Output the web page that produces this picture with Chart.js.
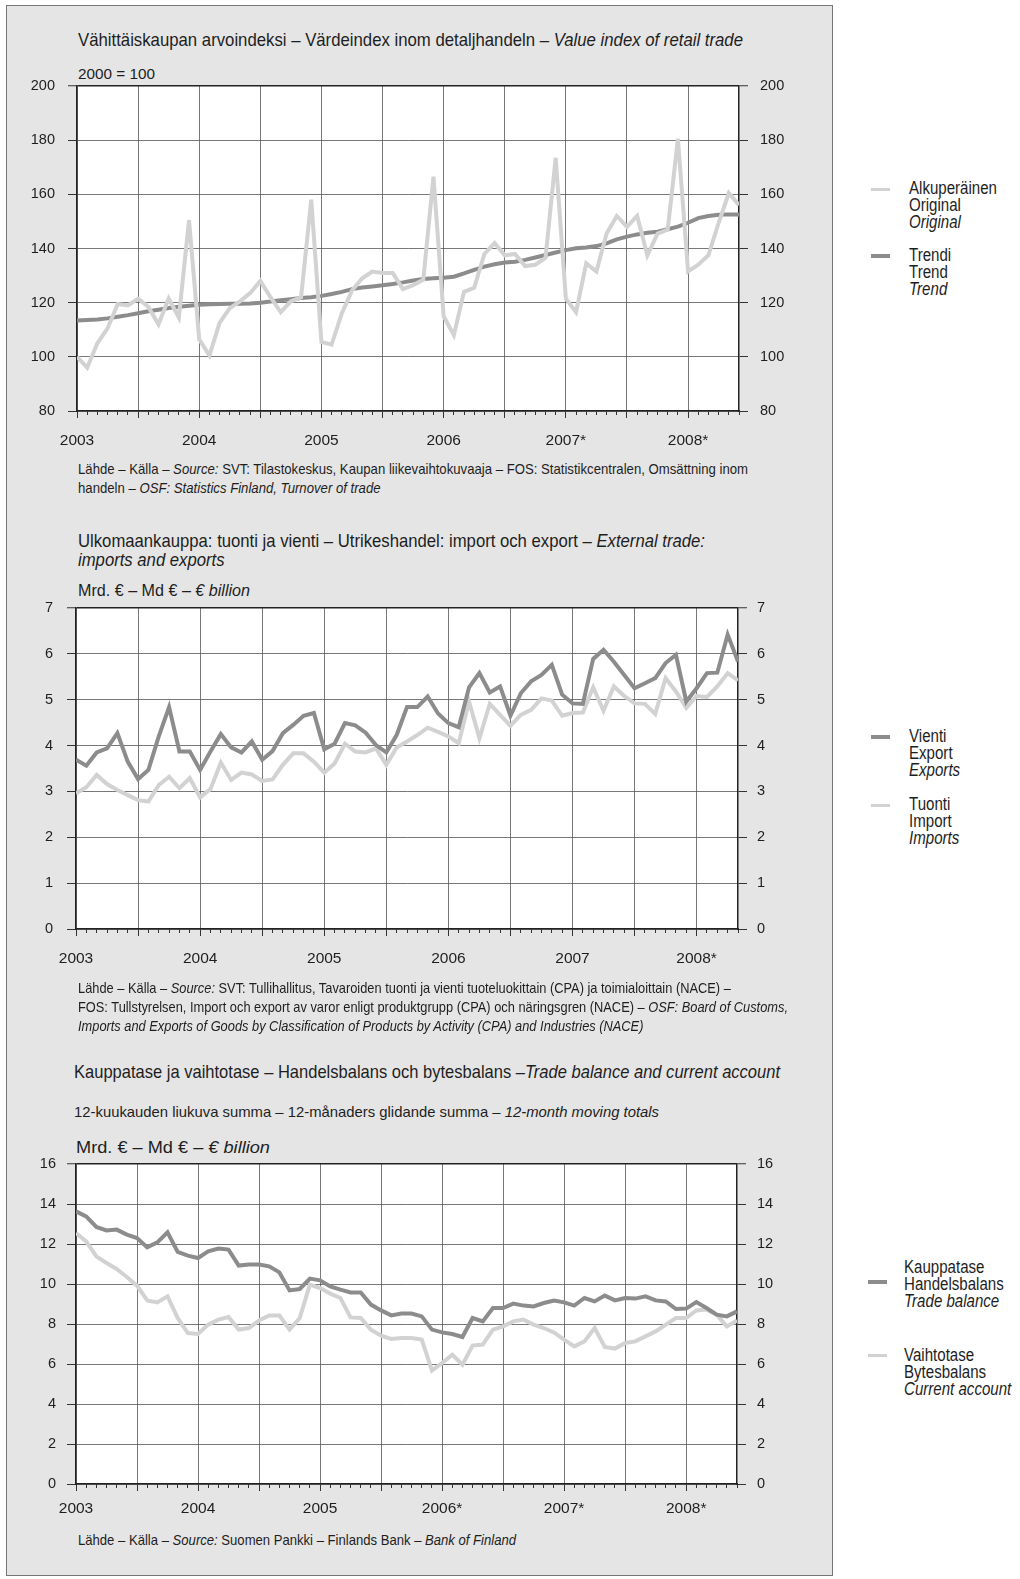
<!DOCTYPE html>
<html lang="fi">
<head>
<meta charset="UTF-8">
<title>Vähittäiskauppa, ulkomaankauppa, kauppatase</title>
<script src="https://cdn.jsdelivr.net/npm/chart.js@4"></script>
<style>
    body {
        margin: 0;
        width: 1020px;
        height: 1579px;
        position: relative;
        background: #fff;
        color: #1e1e1e;
        font-family: "Liberation Sans", Arial, sans-serif;
    }
    #box {
        position: absolute;
        left: 6px; top: 5px;
        width: 825px; height: 1569px;
        background: #e5e5e5;
        border: 1px solid #777;
    }
    .t { position: absolute; white-space: nowrap; line-height: 1; transform-origin: left top; }
    .title { font-size: 18.5px; }
    .src { font-size: 14.5px; line-height: 19px; }
    .leg { position: absolute; left: 909px; font-size: 17.5px; line-height: 17.2px; white-space: nowrap; transform-origin: left top; }
    .swatch { position: absolute; width: 19px; height: 4px; }
    .dark { background: #8c8c8c; }
    .light { background: #d2d2d2; height: 3px; }
    canvas { position: absolute; left: 0; }
</style>
</head>
<body>
<div id="box"></div>

<!-- chart 1 -->
<div class="t title" data-w="665" style="left:78px; top:31px">Vähittäiskaupan arvoindeksi – Värdeindex inom detaljhandeln – <i>Value index of retail trade</i></div>
<div class="t" data-w="77" style="left:78px; top:67px; font-size:14px">2000 = 100</div>
<canvas id="c1" width="800" height="400" style="top:60px"></canvas>
<div class="t src" data-w="670" style="left:78px; top:460px">Lähde – Källa – <i>Source:</i> SVT: Tilastokeskus, Kaupan liikevaihtokuvaaja – FOS: Statistikcentralen, Omsättning inom<br>handeln – <i>OSF: Statistics Finland, Turnover of trade</i></div>

<!-- chart 2 -->
<div class="t title" data-w="627" style="left:78px; top:531px; line-height:19px">Ulkomaankauppa: tuonti ja vienti – Utrikeshandel: import och export – <i>External trade:</i><br><i>imports and exports</i></div>
<div class="t" data-w="172" style="left:78px; top:583px; font-size:16px">Mrd. € – Md € – <i>€ billion</i></div>
<canvas id="c2" width="800" height="400" style="top:580px"></canvas>
<div class="t src" data-w="710" style="left:78px; top:979px">Lähde – Källa – <i>Source:</i> SVT: Tullihallitus, Tavaroiden tuonti ja vienti tuoteluokittain (CPA) ja toimialoittain (NACE) –<br>FOS: Tullstyrelsen, Import och export av varor enligt produktgrupp (CPA) och näringsgren (NACE) – <i>OSF: Board of Customs,</i><br><i>Imports and Exports of Goods by Classification of Products by Activity (CPA) and Industries (NACE)</i></div>

<!-- chart 3 -->
<div class="t title" data-w="706" style="left:74px; top:1063px">Kauppatase ja vaihtotase – Handelsbalans och bytesbalans –<i>Trade balance and current account</i></div>
<div class="t" data-w="585" style="left:74px; top:1104px; font-size:15px">12-kuukauden liukuva summa – 12-månaders glidande summa – <i>12-month moving totals</i></div>
<div class="t" data-w="194" style="left:76px; top:1139px; font-size:16.5px">Mrd. € – Md € – <i>€ billion</i></div>
<canvas id="c3" width="800" height="390" style="top:1140px"></canvas>
<div class="t src" data-w="438" style="left:78px; top:1533px; line-height:1">Lähde – Källa – <i>Source:</i> Suomen Pankki – Finlands Bank – <i>Bank of Finland</i></div>

<!-- legends -->
<div class="swatch light" style="left:871px; top:188px"></div>
<div class="leg" id="legRef" style="top:180px">Alkuperäinen<br>Original<br><i>Original</i></div>
<div class="swatch dark" style="left:871px; top:254px"></div>
<div class="leg" style="top:247px">Trendi<br>Trend<br><i>Trend</i></div>

<div class="swatch dark" style="left:871px; top:735px"></div>
<div class="leg" style="top:728px">Vienti<br>Export<br><i>Exports</i></div>
<div class="swatch light" style="left:871px; top:804px"></div>
<div class="leg" style="top:796px">Tuonti<br>Import<br><i>Imports</i></div>

<div class="swatch dark" style="left:868px; top:1280px"></div>
<div class="leg" style="left:904px; top:1259px">Kauppatase<br>Handelsbalans<br><i>Trade balance</i></div>
<div class="swatch light" style="left:868px; top:1354px"></div>
<div class="leg" style="left:904px; top:1347px">Vaihtotase<br>Bytesbalans<br><i>Current account</i></div>

<script>
    // Kuukausittaiset arvot, tammikuu 2003 = indeksi 0

    // Vähittäiskaupan arvoindeksi, 2000 = 100 (1/2003 - 6/2008)
    const retailOriginal = [
        100, 96, 105, 110.5, 119.5, 119, 121.5, 118.5, 112, 121.5, 114.5, 150.5,
        106.5, 100.5, 112.5, 118, 120.5, 123.5, 128, 122, 116.5, 120.5, 122, 158,
        105.5, 104.5, 116, 124.5, 129, 131.5, 131, 131, 125, 126.5, 128.5, 166.5,
        115, 108, 124, 125.5, 138, 142, 137.5, 138, 133.5, 134, 136.5, 173.5,
        121.5, 116.5, 134.5, 131.5, 145.5, 152, 148, 152, 137.5, 145.5, 147, 180.5,
        131.5, 134, 137.5, 149.5, 160.5, 156
    ];
    const retailTrend = [
        113.4, 113.6, 113.8, 114.2, 114.8, 115.4, 116.1, 116.8, 117.4, 118, 118.5, 118.9,
        119.2, 119.4, 119.5, 119.6, 119.6, 119.7, 120, 120.4, 120.9, 121.3, 121.7, 122,
        122.5, 123.2, 124, 125, 125.6, 126, 126.4, 126.9, 127.5, 128.2, 128.7, 129,
        129.2, 129.6, 130.8, 132.1, 133.3, 134.2, 134.8, 135.1, 135.8, 136.7, 137.6, 138.5,
        139.4, 140.1, 140.4, 140.9, 141.9, 143.4, 144.4, 145.2, 145.8, 146.2, 147.1, 148.1,
        149.5, 151.2, 152, 152.5, 152.6, 152.6
    ];
    const retailYears = ['2003', '2004', '2005', '2006', '2007*', '2008*'];

    // Ulkomaankauppa, mrd. € (1/2003 - 5/2008)
    const exportsBn = [
        3.69, 3.56, 3.85, 3.94, 4.27, 3.65, 3.27, 3.47, 4.2, 4.84, 3.87, 3.87,
        3.47, 3.87, 4.25, 3.96, 3.85, 4.09, 3.69, 3.88, 4.27, 4.45, 4.65, 4.71,
        3.92, 4.04, 4.49, 4.44, 4.28, 4.01, 3.85, 4.23, 4.84, 4.84, 5.07, 4.7,
        4.49, 4.4, 5.27, 5.58, 5.16, 5.29, 4.65, 5.14, 5.4, 5.54, 5.76, 5.11,
        4.92, 4.91, 5.89, 6.09, 5.83, 5.54, 5.25, 5.36, 5.47, 5.8, 5.98, 4.96,
        5.25, 5.58, 5.59, 6.42, 5.83
    ];
    const importsBn = [
        2.96, 3.09, 3.36, 3.16, 3.03, 2.92, 2.81, 2.78, 3.14, 3.32, 3.07, 3.29,
        2.87, 3.05, 3.63, 3.25, 3.41, 3.37, 3.23, 3.26, 3.58, 3.83, 3.83, 3.65,
        3.41, 3.61, 4.04, 3.87, 3.85, 3.94, 3.58, 3.96, 4.09, 4.23, 4.39, 4.3,
        4.2, 4.05, 4.96, 4.16, 4.91, 4.67, 4.43, 4.67, 4.78, 5.03, 4.98, 4.65,
        4.71, 4.72, 5.27, 4.76, 5.29, 5.08, 4.92, 4.91, 4.69, 5.47, 5.18, 4.82,
        5.08, 5.06, 5.29, 5.58, 5.42
    ];
    const tradeYears = ['2003', '2004', '2005', '2006', '2007', '2008*'];

    // Kauppatase ja vaihtotase, 12 kk liukuva summa, mrd. € (1/2003 - 6/2008)
    const tradeBalance = [
        13.63, 13.38, 12.85, 12.68, 12.72, 12.47, 12.3, 11.83, 12.08, 12.58, 11.6, 11.42,
        11.3, 11.63, 11.77, 11.72, 10.92, 10.97, 10.97, 10.88, 10.58, 9.68, 9.75, 10.27,
        10.18, 9.88, 9.72, 9.58, 9.58, 8.97, 8.68, 8.43, 8.52, 8.52, 8.38, 7.72,
        7.58, 7.5, 7.35, 8.3, 8.13, 8.8, 8.8, 9.02, 8.92, 8.88, 9.05, 9.17,
        9.08, 8.92, 9.3, 9.13, 9.42, 9.18, 9.3, 9.27, 9.38, 9.18, 9.13, 8.75,
        8.77, 9.1, 8.8, 8.47, 8.38, 8.63
    ];
    const currentAccount = [
        12.55, 12.13, 11.38, 11.05, 10.75, 10.35, 9.92, 9.18, 9.08, 9.38, 8.3, 7.55,
        7.5, 7.97, 8.22, 8.35, 7.72, 7.8, 8.18, 8.43, 8.42, 7.72, 8.3, 9.97,
        9.8, 9.52, 9.3, 8.33, 8.3, 7.72, 7.42, 7.25, 7.3, 7.3, 7.22, 5.68,
        6.05, 6.47, 5.97, 6.92, 6.97, 7.72, 7.88, 8.13, 8.22, 7.97, 7.8, 7.58,
        7.22, 6.88, 7.13, 7.8, 6.85, 6.77, 7.05, 7.13, 7.38, 7.63, 7.97, 8.3,
        8.3, 8.68, 8.72, 8.47, 7.88, 8.18
    ];
    const balanceYears = ['2003', '2004', '2005', '2006*', '2007*', '2008*'];

    const DARK = '#8c8c8c';
    const LIGHT = '#d2d2d2';
    const INK = '#1e1e1e';

    // kapea kirjasin puuttuu, joten tekstit puristetaan leveyteensä
    document.querySelectorAll('[data-w]').forEach(el => {
        const w = el.getBoundingClientRect().width;
        el.style.transform = 'scaleX(' + (Number(el.dataset.w) / w) + ')';
    });
    const legK = 88 / document.getElementById('legRef').getBoundingClientRect().width;
    document.querySelectorAll('.leg').forEach(el => {
        el.style.transform = 'scaleX(' + legK + ')';
    });

    Chart.defaults.font.family = '"Liberation Sans", Arial, sans-serif';
    Chart.defaults.color = INK;

    // valkoinen tausta piirtoalueelle
    const plotBg = {
        id: 'plotBg',
        beforeDraw(chart) {
            const a = chart.chartArea;
            chart.ctx.save();
            chart.ctx.fillStyle = '#fff';
            chart.ctx.fillRect(a.left, a.top, a.right - a.left, a.bottom - a.top);
            chart.ctx.restore();
        }
    };

    function lineChart(id, p) {
        const yAxis = (pos) => ({
            position: pos,
            min: p.yMin, max: p.yMax,
            afterFit: (s) => { s.width = pos === 'left' ? p.leftW : p.rightW; },
            ticks: { stepSize: p.yStep, padding: pos === 'left' ? p.padL : p.padR, font: { size: 14.5 }, color: INK },
            grid: {
                drawOnChartArea: pos === 'left',
                tickLength: 9,
                tickWidth: 1,
                tickColor: '#333',
                color: (c) => c.tick && c.tick.value === p.yMax ? '#222' : '#555',
                lineWidth: (c) => c.tick && c.tick.value === p.yMax ? 1.5 : 0.8
            },
            border: { color: '#222', width: 1.5 }
        });

        return new Chart(document.getElementById(id), {
            type: 'line',
            data: {
                datasets: p.series.map(s => ({
                    label: s.label,
                    data: s.values.map((v, i) => ({ x: i, y: v })),
                    borderColor: s.color,
                    borderWidth: 4,
                    pointRadius: 0,
                    tension: 0,
                    fill: false
                }))
            },
            options: {
                responsive: false,
                animation: false,
                events: [],
                layout: { padding: { top: p.padTop, left: 0, right: 0, bottom: 0 } },
                plugins: { legend: { display: false }, tooltip: { enabled: false } },
                scales: {
                    // puolivuosittaiset viivat ja vuosiluvut
                    x: {
                        type: 'linear',
                        position: 'bottom',
                        weight: 1,
                        min: 0, max: p.xMax,
                        afterFit: (s) => { s.height = p.xH; },
                        ticks: {
                            stepSize: 6,
                            includeBounds: false,
                            autoSkip: false,
                            maxRotation: 0,
                            padding: p.padX,
                            font: { size: 15.5 },
                            color: INK,
                            callback: (v) => v % 12 === 0 ? p.years[v / 12] : ''
                        },
                        grid: { color: '#555', lineWidth: 0.8, tickLength: 7, tickColor: '#333', tickWidth: 1 },
                        border: { color: '#222', width: 1.5 }
                    },
                    // kuukausimerkit
                    xm: {
                        type: 'linear',
                        position: 'bottom',
                        weight: 0,
                        min: 0, max: p.xMax,
                        afterFit: (s) => { s.height = 0; },
                        ticks: { stepSize: 1, display: false, autoSkip: false, includeBounds: false },
                        grid: { drawOnChartArea: false, tickLength: 4, tickColor: '#333', tickWidth: 1 },
                        border: { display: false }
                    },
                    y: yAxis('left'),
                    y2: yAxis('right')
                }
            },
            plugins: [plotBg]
        });
    }

    lineChart('c1', {
        series: [
            { label: 'Alkuperäinen', values: retailOriginal, color: LIGHT },
            { label: 'Trendi', values: retailTrend, color: DARK }
        ],
        years: retailYears,
        xMax: 65, yMin: 80, yMax: 200, yStep: 20,
        padTop: 26, xH: 49, leftW: 77, rightW: 61, padL: 13, padR: 12, padX: 13
    });

    lineChart('c2', {
        series: [
            { label: 'Vienti', values: exportsBn, color: DARK },
            { label: 'Tuonti', values: importsBn, color: LIGHT }
        ],
        years: tradeYears,
        xMax: 64, yMin: 0, yMax: 7, yStep: 1,
        padTop: 28, xH: 51, leftW: 76, rightW: 62, padL: 14, padR: 10, padX: 13
    });

    lineChart('c3', {
        series: [
            { label: 'Kauppatase', values: tradeBalance, color: DARK },
            { label: 'Vaihtotase', values: currentAccount, color: LIGHT }
        ],
        years: balanceYears,
        xMax: 65, yMin: 0, yMax: 16, yStep: 2,
        padTop: 24, xH: 46, leftW: 76, rightW: 63, padL: 11, padR: 11, padX: 8
    });
</script>
</body>
</html>
